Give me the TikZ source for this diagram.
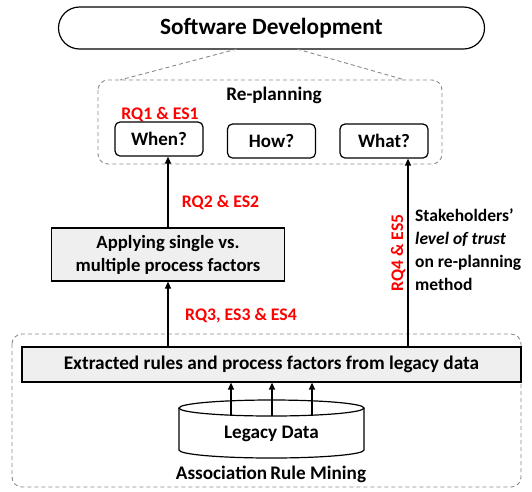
\documentclass[tikz,border=0pt]{standalone}
\usepackage{fontspec}
\setmainfont{Carlito}
\usetikzlibrary{arrows.meta}
\definecolor{boxgray}{HTML}{EFEFEF}
\definecolor{dashgray}{HTML}{8A8A8A}
\tikzset{
  lbl/.style={font=\bfseries\fontsize{19.2}{23}\selectfont, inner sep=0pt},
  redlbl/.style={font=\bfseries\fontsize{17.7}{21}\selectfont, text=red, inner sep=0pt},
  qbox/.style={draw, line width=1.2pt, rounded corners=5pt, minimum width=88pt, minimum height=34pt, font=\bfseries\fontsize{19}{23}\selectfont, inner sep=0pt},
  graybox/.style={draw, line width=1.2pt, fill=boxgray, inner sep=0pt},
  dashline/.style={draw=dashgray, line width=0.9pt, dash pattern=on 4pt off 3pt},
  dashbox/.style={dashline, rounded corners=10pt},
  arr/.style={line width=1.2pt, -{Triangle[width=6pt,length=7pt]}},
}
\begin{document}
\begin{tikzpicture}[x=1pt,y=-1pt]
\useasboundingbox (0,0) rectangle (532,491);

% top band
\node[draw, line width=1.2pt, rounded corners=21pt, minimum width=426pt, minimum height=42pt,
      font=\bfseries\fontsize{23.3}{27}\selectfont] (sd) at (271.5,28) {Software Development};

% re-planning group
\draw[dashbox] (98,80) rectangle (442,164);
\coordinate (rpL) at (120,80);
\coordinate (rpR) at (405,80);
\coordinate (sdL) at (237,49);
\coordinate (sdR) at (297,49);
\draw[dashline] (sdL) -- (rpL);
\draw[dashline] (sdR) -- (rpR);
\node[lbl] (rp) at (274,95) {Re-planning};
\node[redlbl] (rq1) at (160,114) {RQ1 \& ES1};
\node[qbox] (when) at (159,139) {When?};
\node[qbox] (how) at (271.5,141) {How?};
\node[qbox] (what) at (384,141) {What?};

% middle
\node[graybox, minimum width=233pt, minimum height=53pt, align=center,
      font=\bfseries\fontsize{18.7}{23}\selectfont] (apply) at (168,254.5)
      {Applying single vs.\\multiple process factors};

% association rule mining group
\draw[dashbox] (12,334) rectangle (521,487);
\node[graybox, minimum width=499pt, minimum height=35pt,
      font=\bfseries\fontsize{19.3}{23}\selectfont] (ext) at (271.5,364.5)
      {Extracted rules and process factors from legacy data};

% legacy data cylinder
\node[lbl] (ld) at (271.5,434) {Legacy Data};
\draw[line width=1.2pt] (179,408) -- (179,450) arc[start angle=180, end angle=0, x radius=92.5, y radius=8] -- (364,408);
\draw[line width=1.2pt] (271.5,408) ellipse [x radius=92.5, y radius=8];
\coordinate (c1) at (231,416);
\coordinate (c2) at (272,416);
\coordinate (c3) at (312,416);
\node[lbl] (arm) at (271,474) {Association\,Rule Mining};

% vertical line carrying the trust arrow
\coordinate (tx) at (408,0);

% connectors
\draw[arr] (c1) -- (c1 |- ext.south);
\draw[arr] (c2) -- (c2 |- ext.south);
\draw[arr] (c3) -- (c3 |- ext.south);
\draw[arr] (ext.north -| apply.north) -- (apply.south);
\draw[arr] (apply.north) -- (apply.north |- when.south);
\draw[arr] (ext.north -| tx) -- (what.south -| tx);

% labels
\node[redlbl] (rq2) at (220.5,202) {RQ2 \& ES2};
\node[redlbl] (rq3) at (241,316) {RQ3, ES3 \& ES4};
\node[redlbl, rotate=90] (rq4) at (398,253) {RQ4 \& ES5};
\node[anchor=north west, align=left, inner sep=0pt,
      font=\bfseries\fontsize{17.5}{23}\selectfont] (trust) at (415,209)
      {Stakeholders'\\\textit{level of trust}\\on re-planning\\method};
\end{tikzpicture}
\end{document}
